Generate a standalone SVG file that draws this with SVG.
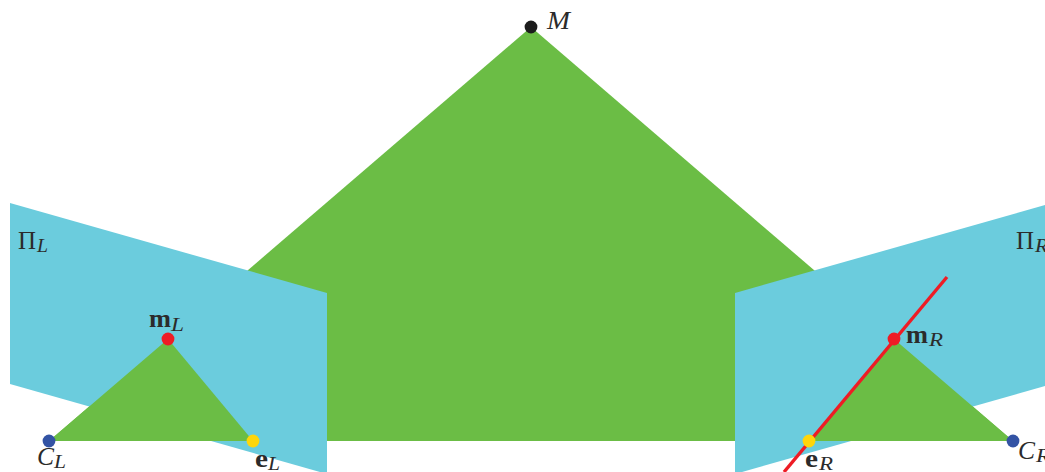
<svg xmlns="http://www.w3.org/2000/svg" width="1045" height="472" viewBox="0 0 1045 472">
<style>
.g{fill:#6bbd45}
.b{fill:#6bccdd}
.t{font-family:"Liberation Serif",serif;fill:#2b2b2b}
.i{font-style:italic}
.bd{font-weight:bold}
.big{font-size:26px}
.sub{font-size:18px}
.red{fill:#ee1c25}
.yel{fill:#ffd60a}
.blu{fill:#3353a4}
</style>
<rect width="1045" height="472" fill="#ffffff"/>
<g id="epipolar-plane"><polygon class="g" points="49,441 531,27 1013,441"/></g>
<g id="image-plane-left"><polygon class="b" points="10,203 327,293 327,474 10,384"/>
<text class="t big" x="18" y="249" textLength="18" lengthAdjust="spacingAndGlyphs">Π</text><text class="t i sub" x="37" y="252" textLength="11" lengthAdjust="spacingAndGlyphs">L</text></g>
<g id="image-plane-right"><polygon class="b" points="735,293 1045,205 1045,386 735,474"/>
<text class="t big" x="1016" y="249" textLength="18" lengthAdjust="spacingAndGlyphs">Π</text><text class="t i sub" x="1035" y="252" textLength="13" lengthAdjust="spacingAndGlyphs">R</text></g>
<g id="triangle-left"><polygon class="g" points="49,441 168,339 253,441"/></g>
<g id="triangle-right"><polygon class="g" points="809,441 894,339 1013,441"/></g>
<g id="connectors"><line x1="947" y1="277" x2="784" y2="472" stroke="#ee1c25" stroke-width="3.4"/></g>
<g id="M"><circle cx="531" cy="27" r="6.4" fill="#1c1c1c"/><text class="t i big" x="547" y="29" textLength="23" lengthAdjust="spacingAndGlyphs">M</text></g>
<g id="mL"><circle class="red" cx="168" cy="339" r="6.4"/><text class="t bd big" x="149" y="327" textLength="22" lengthAdjust="spacingAndGlyphs">m</text><text class="t i sub" x="171" y="331" textLength="13" lengthAdjust="spacingAndGlyphs">L</text></g>
<g id="CL"><circle class="blu" cx="49" cy="441" r="6.4"/><text class="t i big" x="37" y="465" textLength="17" lengthAdjust="spacingAndGlyphs">C</text><text class="t i sub" x="54" y="468" textLength="12" lengthAdjust="spacingAndGlyphs">L</text></g>
<g id="eL"><circle class="yel" cx="253" cy="441" r="6.4"/><text class="t bd big" x="255" y="467" textLength="13" lengthAdjust="spacingAndGlyphs">e</text><text class="t i sub" x="268" y="470" textLength="12" lengthAdjust="spacingAndGlyphs">L</text></g>
<g id="mR"><circle class="red" cx="894" cy="339" r="6.4"/><text class="t bd big" x="906" y="343" textLength="22" lengthAdjust="spacingAndGlyphs">m</text><text class="t i sub" x="929" y="346" textLength="14" lengthAdjust="spacingAndGlyphs">R</text></g>
<g id="eR"><circle class="yel" cx="809" cy="441" r="6.4"/><text class="t bd big" x="805" y="467" textLength="13" lengthAdjust="spacingAndGlyphs">e</text><text class="t i sub" x="819" y="470" textLength="14" lengthAdjust="spacingAndGlyphs">R</text></g>
<g id="CR"><circle class="blu" cx="1013" cy="441" r="6.4"/><text class="t i big" x="1018" y="459" textLength="17" lengthAdjust="spacingAndGlyphs">C</text><text class="t i sub" x="1036" y="462" textLength="14" lengthAdjust="spacingAndGlyphs">R</text></g>
</svg>
